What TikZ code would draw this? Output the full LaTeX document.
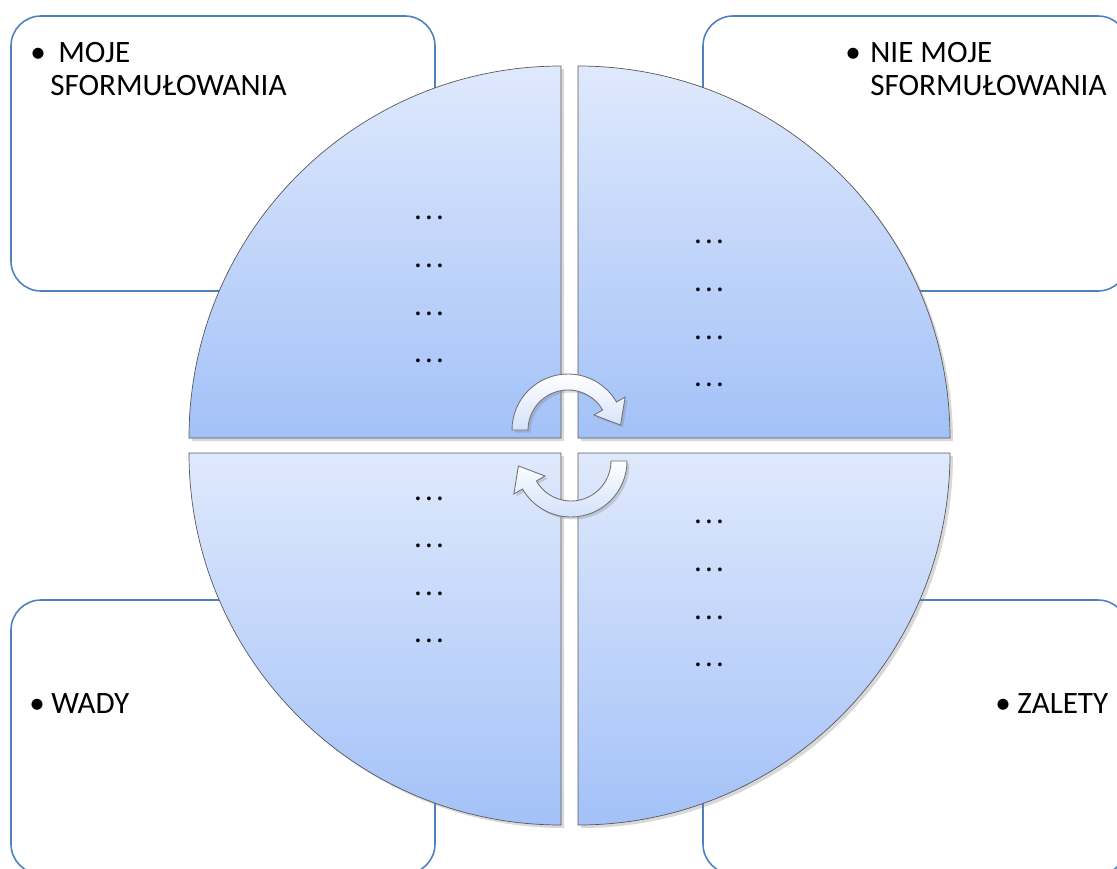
\documentclass[tikz,border=0pt]{standalone}
\usepackage{fontspec}
\setmainfont{Carlito}
\usepackage{xcolor}
\definecolor{kwline}{HTML}{4F81BD}
\definecolor{kwtop}{HTML}{DFE9FC}
\definecolor{kwbot}{HTML}{A3C1F8}
\definecolor{kwarrbot}{HTML}{D3E1FA}
\usetikzlibrary{calc,shadows}
\tikzset{
  kwbox/.style={draw=kwline,line width=0.9pt,rounded corners=0.6cm,fill=white},
  kwquarter/.style={draw=black!65,line width=0.4pt,top color=kwtop,bottom color=kwbot,
    drop shadow={opacity=0.3,shadow xshift=0.6mm,shadow yshift=-0.6mm}},
  kwarrow/.style={draw=black!55,line width=0.5pt,top color=white,bottom color=kwarrbot,
    drop shadow={opacity=0.3,shadow xshift=0.5mm,shadow yshift=-0.5mm}},
  kwlabel/.style={inner sep=0pt,anchor=base west,font=\fontsize{17.7}{21}\selectfont},
  kwdots/.style={inner sep=0pt,anchor=base,font=\fontsize{17.7}{21}\selectfont},
}
\newcommand\kwdot{.\kern1.8pt.\kern1.8pt.}
% curved arrow: centre, start angle, end angle
\newcommand\kwcycle[3]{%
  \path[kwarrow] ($(#1)+(#2:56)$) arc[start angle=#2,end angle=#3,radius=56]
    -- ($(#1)+(#3:66)$) -- ($(#1)+(#3:48)+(#3+90:22)$) -- ($(#1)+(#3:30)$)
    -- ($(#1)+(#3:40)$) arc[start angle=#3,end angle=#2,radius=40] -- cycle;}

\begin{document}
\begin{tikzpicture}[x=0.02cm,y=-0.02cm]
\useasboundingbox (0,0) rectangle (1117,869);
% boxes
\draw[kwbox] (11,16) rectangle (435,291);
\draw[kwbox] (703,16) rectangle (1128,291);
\draw[kwbox] (11,600) rectangle (435,874);
\draw[kwbox] (703,600) rectangle (1128,874);
\node[kwlabel] (mojeb) at (30,62) {•};
\node[kwlabel] (moje) at (58,62) {MOJE};
\node[kwlabel] (mojes) at (50,95) {SFORMUŁOWANIA};
\node[kwlabel] (niemojeb) at (845,62) {•};
\node[kwlabel] (niemoje) at (870,62) {NIE MOJE};
\node[kwlabel] (niemojes) at (870,95) {SFORMUŁOWANIA};
\node[kwlabel] (wadyb) at (29,713) {•};
\node[kwlabel] (wady) at (51,713) {WADY};
\node[kwlabel] (zaletyb) at (995,713) {•};
\node[kwlabel] (zalety) at (1017,713) {ZALETY};
% circle
\path[kwquarter] (561,438) -- ++(-372,0) arc[start angle=180,end angle=270,radius=372] -- cycle;
\path[kwquarter] (578,438) -- ++(0,-372) arc[start angle=270,end angle=360,radius=372] -- cycle;
\path[kwquarter] (578,453) -- ++(372,0) arc[start angle=0,end angle=90,radius=372] -- cycle;
\path[kwquarter] (561,453) -- ++(0,372) arc[start angle=90,end angle=180,radius=372] -- cycle;
\foreach \y [count=\i] in {219,267,315,362} \node[kwdots] (tl\i) at (429,\y) {\kwdot};
\foreach \y [count=\i] in {243,291,339,386} \node[kwdots] (tr\i) at (709,\y) {\kwdot};
\foreach \y [count=\i] in {500,547,595,642} \node[kwdots] (bl\i) at (429,\y) {\kwdot};
\foreach \y [count=\i] in {523,571,619,666} \node[kwdots] (br\i) at (709,\y) {\kwdot};
% arrows
\coordinate (topc) at (568,430);
\coordinate (botc) at (571,461);
\kwcycle{topc}{180}{330}
\kwcycle{botc}{0}{150}
\end{tikzpicture}
\end{document}
